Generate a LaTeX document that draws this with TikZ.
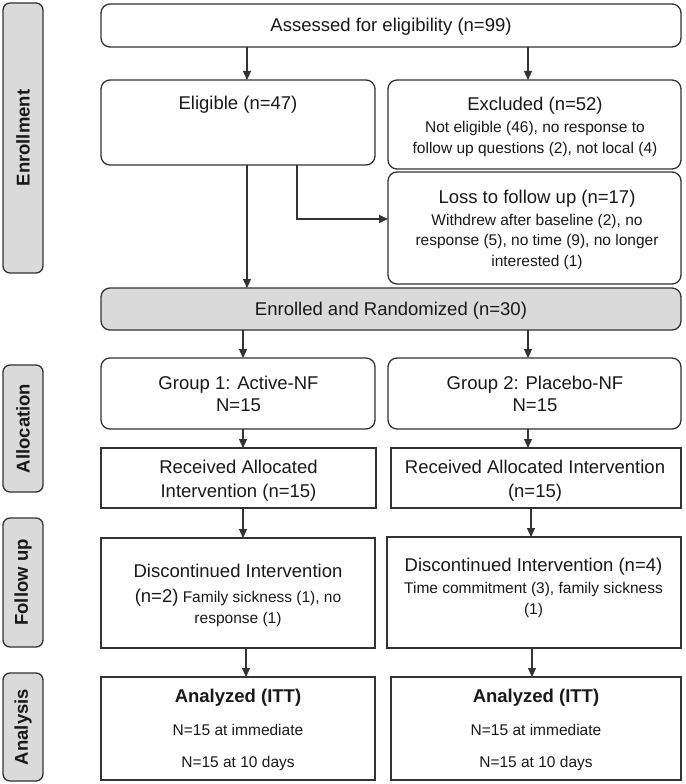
\documentclass[tikz,border=0pt]{standalone}
\usepackage{fontspec}
\setmainfont{Liberation Sans}
\usetikzlibrary{arrows.meta}
\definecolor{lc}{RGB}{50,50,55}
\definecolor{gfill}{RGB}{218,218,218}
\definecolor{tc}{RGB}{25,25,25}
\newcommand\bigf{\fontsize{18.5}{22}\selectfont}
\newcommand\smallf{\fontsize{15.5}{20}\selectfont}
\tikzset{
  box/.style={draw=lc, line width=1.3pt, inner sep=0pt, outer sep=0pt},
  rbox/.style={box, rounded corners=9pt},
  gbox/.style={rbox, fill=gfill},
  lbl/.style={draw=lc, line width=1.3pt, fill=gfill, rounded corners=7pt, inner sep=0pt, outer sep=0pt,
     minimum width=40pt},
  lbltext/.style={font=\bigf\bfseries, text=tc, rotate=90, inner sep=0pt},
  bigt/.style={font=\bigf, text=tc, anchor=base, inner sep=0pt},
  smallt/.style={font=\smallf, text=tc, anchor=base, inner sep=0pt},
  arr/.style={draw=lc, line width=1.1pt, -{Triangle[length=9pt,width=8pt]}}
}
\begin{document}
\begin{tikzpicture}[x=1pt,y=-1pt]
\useasboundingbox[fill=white] (0,0) rectangle (685,784);

% side labels
\node[lbl, minimum height=270pt] (lenr) at (23,138) {};
\node[lbltext] (tenr) at (lenr.center) {Enrollment};
\node[lbl, minimum height=127pt] (lall) at (23,428.5) {};
\node[lbltext] (tall) at (lall.center) {Allocation};
\node[lbl, minimum height=129pt] (lfol) at (23,582.5) {};
\node[lbltext] (tfol) at (lfol.center) {Follow up};
\node[lbl, minimum height=108pt] (lana) at (23,727) {};
\node[lbltext] (tana) at (lana.center) {Analysis};

% boxes
\node[rbox, minimum width=580pt, minimum height=43pt] (assessed) at (391,25.5) {};
\node[rbox, minimum width=274pt, minimum height=85pt] (eligible) at (238,122.5) {};
\node[rbox, minimum width=293pt, minimum height=89pt] (excluded) at (534.5,124.5) {};
\node[rbox, minimum width=293pt, minimum height=112pt] (loss) at (534.5,228) {};
\node[gbox, minimum width=580pt, minimum height=42pt] (enrolled) at (391,309) {};
\node[rbox, minimum width=274pt, minimum height=71pt] (group1) at (238,393.5) {};
\node[rbox, minimum width=293pt, minimum height=71pt] (group2) at (534.5,393.5) {};
\node[box, minimum width=275pt, minimum height=60pt] (rec1) at (238.5,478) {};
\node[box, minimum width=290pt, minimum height=60pt] (rec2) at (536,478) {};
\node[box, minimum width=274pt, minimum height=110pt] (disc1) at (238,593) {};
\node[box, minimum width=294pt, minimum height=111pt] (disc2) at (534,592.5) {};
\node[box, minimum width=274pt, minimum height=103pt] (an1) at (238,728.5) {};
\node[box, minimum width=290pt, minimum height=103pt] (an2) at (536,728.5) {};

% texts
\node[bigt] (t1) at (391,32) {Assessed for eligibility (n=99)};
\node[bigt] (t2) at (238,109) {Eligible (n=47)};
\node[bigt] (t3) at (535,110) {Excluded (n=52)};
\node[smallt] (t3a) at (535,132) {Not eligible (46), no response to};
\node[smallt] (t3b) at (535,153) {follow up questions (2), not local (4)};
\node[bigt] (t4) at (537,203) {Loss to follow up (n=17)};
\node[smallt] (t4a) at (537,225) {Withdrew after baseline (2), no};
\node[smallt] (t4b) at (537,245.5) {response (5), no time (9), no longer};
\node[smallt] (t4c) at (537,266) {interested (1)};
\node[bigt] (t5) at (391,315) {Enrolled and Randomized (n=30)};
\node[bigt] (t6) at (238.5,389) {Group 1: Active-NF};
\node[bigt] (t6a) at (238.5,411) {N=15};
\node[bigt] (t7) at (535,389) {Group 2: Placebo-NF};
\node[bigt] (t7a) at (535,411) {N=15};
\node[bigt] (t8) at (238.5,473) {Received Allocated};
\node[bigt] (t8a) at (238.5,497.5) {Intervention (n=15)};
\node[bigt] (t9) at (535,473) {Received Allocated Intervention};
\node[bigt] (t9a) at (535,497.5) {(n=15)};
\node[bigt] (t10) at (238,577) {Discontinued Intervention};
\node[smallt] (t10a) at (238,602) {{\bigf(n=2)} Family sickness (1), no};
\node[smallt] (t10b) at (238,623) {response (1)};
\node[bigt] (t11) at (533.5,571) {Discontinued Intervention (n=4)};
\node[smallt] (t11a) at (533.5,593) {Time commitment (3), family sickness};
\node[smallt] (t11b) at (533.5,614) {(1)};
\node[bigt, font=\bigf\bfseries] (t12) at (238,702) {Analyzed (ITT)};
\node[smallt] (t12a) at (238,735) {N=15 at immediate};
\node[smallt] (t12b) at (238,767) {N=15 at 10 days};
\node[bigt, font=\bigf\bfseries] (t13) at (536,702) {Analyzed (ITT)};
\node[smallt] (t13a) at (536,735) {N=15 at immediate};
\node[smallt] (t13b) at (536,767) {N=15 at 10 days};

% connector x positions
\coordinate (xa) at (247,0);
\coordinate (xb) at (528,0);
\coordinate (xc) at (243,0);
\coordinate (xd) at (531,0);
\coordinate (xe) at (246,0);
\coordinate (xf) at (532,0);
\coordinate (bend) at (297,219);

\draw[arr] (assessed.south -| xa) -- (eligible.north -| xa);
\draw[arr] (assessed.south -| xb) -- (excluded.north -| xb);
\draw[arr] (eligible.south -| xa) -- (enrolled.north -| xa);
\draw[arr] (eligible.south -| bend) -- (bend) -- (bend -| loss.west);
\draw[arr] (enrolled.south -| xc) -- (group1.north -| xc);
\draw[arr] (enrolled.south -| xb) -- (group2.north -| xb);
\draw[arr] (group1.south -| xc) -- (rec1.north -| xc);
\draw[arr] (group2.south -| xb) -- (rec2.north -| xb);
\draw[arr] (rec1.south -| xc) -- (disc1.north -| xc);
\draw[arr] (rec2.south -| xd) -- (disc2.north -| xd);
\draw[arr] (disc1.south -| xe) -- (an1.north -| xe);
\draw[arr] (disc2.south -| xf) -- (an2.north -| xf);
\end{tikzpicture}
\end{document}
